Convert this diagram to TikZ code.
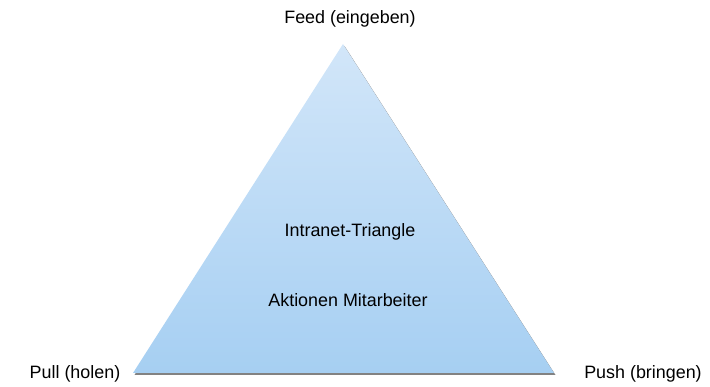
\documentclass[tikz,border=0pt]{standalone}
\usepackage{fontspec}
\setmainfont{Liberation Sans}
\usetikzlibrary{positioning}
\definecolor{triTop}{RGB}{210,230,249}
\definecolor{triBottom}{RGB}{166,207,242}
\definecolor{triShadow}{RGB}{130,130,130}

\begin{document}
\begin{tikzpicture}[x=1pt, y=-1pt, every node/.style={font=\fontsize{17.9}{21}\selectfont, inner sep=0pt}]
      \useasboundingbox (0,0) rectangle (710,387);
      \coordinate (apex) at (343,44);
      \coordinate (baseL) at (133,373);
      \coordinate (baseR) at (554,373);
      % shadow, then the shaded triangle
      \fill[triShadow] ([shift={(1.5,2)}]apex) -- ([shift={(1.5,2)}]baseR) -- ([shift={(1.5,2)}]baseL) -- cycle;
      \shade[top color=triTop, bottom color=triBottom] (apex) -- (baseR) -- (baseL) -- cycle;
      \node (feed) at (350,19) {Feed (eingeben)};
      \node (intranet) at (350,232) {Intranet-Triangle};
      \node (aktionen) at (348,300) {Aktionen Mitarbeiter};
      \node (pull) at (75,374) {Pull (holen)};
      \node (push) at (643,374) {Push (bringen)};
    \end{tikzpicture}
\end{document}
